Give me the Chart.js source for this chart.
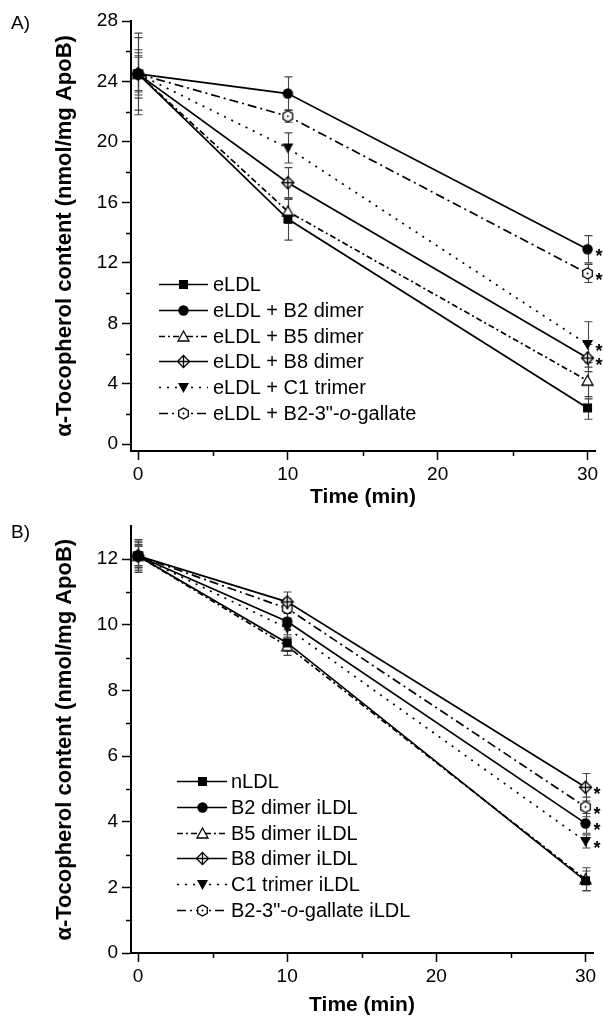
<!DOCTYPE html>
<html>
<head>
<meta charset="utf-8">
<title>alpha-Tocopherol content</title>
<script src="https://cdn.jsdelivr.net/npm/chart.js@4.4.1/dist/chart.umd.min.js"></script>
<style>
    html, body { margin: 0; padding: 0; background: #fff; }
    .panel { position: relative; width: 604px; height: 511px; }
</style>
</head>
<body>
<div class="panel"><canvas id="chartA"></canvas></div>
<div class="panel"><canvas id="chartB"></canvas></div>
<script>
    "use strict";

    var FONT = "'Liberation Sans', Arial, Helvetica, sans-serif";

    // Time points (min)
    var timeMin = [0, 10, 30];
    var xTicks = [0, 10, 20, 30];
    var xMinor = [5, 15, 25];

    // Panel A - eLDL
    var labelsA = ["eLDL", "eLDL + B2 dimer", "eLDL + B5 dimer", "eLDL + B8 dimer", "eLDL + C1 trimer", "eLDL + B2-3\"-o-gallate"];
    var eLDL       = [24.5, 14.9, 2.4];
    var eB2Dimer   = [24.5, 23.2, 12.9];
    var eB5Dimer   = [24.5, 15.4, 4.2];
    var eB8Dimer   = [24.5, 17.3, 5.7];
    var eC1Trimer  = [24.5, 19.6, 6.6];
    var eB2Gallate = [24.5, 21.7, 11.3];
    var eLDLErr       = [1.2, 1.4, 0.75];
    var eB2DimerErr   = [2.7, 1.1, 0.9];
    var eB5DimerErr   = [1.4, 0.8, 1.2];
    var eB8DimerErr   = [1.6, 1.0, 0.9];
    var eC1TrimerErr  = [2.4, 1.0, 1.5];
    var eB2GallateErr = [1.1, 0.4, 0.6];
    var starsA = [false, true, false, true, true, true];
    var yTicksA = [0, 4, 8, 12, 16, 20, 24, 28];
    var yMinorA = [2, 6, 10, 14, 18, 22, 26];

    // Panel B - nLDL / iLDL
    var labelsB = ["nLDL", "B2 dimer iLDL", "B5 dimer iLDL", "B8 dimer iLDL", "C1 trimer iLDL", "B2-3\"-o-gallate iLDL"];
    var nLDL       = [12.1, 9.45, 2.2];
    var iB2Dimer   = [12.1, 10.1, 3.95];
    var iB5Dimer   = [12.1, 9.35, 2.25];
    var iB8Dimer   = [12.1, 10.7, 5.05];
    var iC1Trimer  = [12.1, 9.9, 3.4];
    var iB2Gallate = [12.1, 10.5, 4.45];
    var nLDLErr       = [0.3, 0.25, 0.3];
    var iB2DimerErr   = [0.4, 0.25, 0.3];
    var iB5DimerErr   = [0.45, 0.28, 0.35];
    var iB8DimerErr   = [0.5, 0.3, 0.42];
    var iC1TrimerErr  = [0.35, 0.3, 0.2];
    var iB2GallateErr = [0.3, 0.3, 0.3];
    var starsB = [false, true, false, true, true, true];
    var yTicksB = [0, 2, 4, 6, 8, 10, 12];
    var yMinorB = [1, 3, 5, 7, 9, 11];

    // marker + line style per series (same order in both panels)
    var seriesStyles = [
        { marker: "square", dash: [] },
        { marker: "circle", dash: [] },
        { marker: "triangle", dash: [6, 3, 2, 3] },
        { marker: "diamondCross", dash: [] },
        { marker: "triangleDown", dash: [2, 6] },
        { marker: "hexagon", dash: [9, 4, 2, 4] }
    ];

    function makeMarker(kind) {
        var c = document.createElement("canvas");
        c.width = 15; c.height = 15;
        var g = c.getContext("2d");
        var m = 7.5;
        g.lineWidth = 1.3;
        g.strokeStyle = "#000";
        g.fillStyle = "#000";
        g.beginPath();
        switch (kind) {
            case "square":
                g.rect(m - 4.5, m - 4.5, 9, 9);
                g.fill();
                break;
            case "circle":
                g.arc(m, m, 5.2, 0, Math.PI * 2);
                g.fill();
                break;
            case "triangle":
                g.moveTo(m, m - 5.5); g.lineTo(m + 5.5, m + 4.5); g.lineTo(m - 5.5, m + 4.5); g.closePath();
                g.fillStyle = "#fff"; g.fill(); g.stroke();
                break;
            case "triangleDown":
                g.moveTo(m - 5.5, m - 4.5); g.lineTo(m + 5.5, m - 4.5); g.lineTo(m, m + 5.5); g.closePath();
                g.fill();
                break;
            case "diamondCross":
                g.moveTo(m, m - 6); g.lineTo(m + 6, m); g.lineTo(m, m + 6); g.lineTo(m - 6, m); g.closePath();
                g.fillStyle = "#fff"; g.fill(); g.stroke();
                g.beginPath();
                g.moveTo(m, m - 6); g.lineTo(m, m + 6);
                g.moveTo(m - 6, m); g.lineTo(m + 6, m);
                g.stroke();
                break;
            case "hexagon":
                for (var k = 0; k < 6; k++) {
                    var a = Math.PI / 2 + k * Math.PI / 3;
                    var px = m + 5.5 * Math.cos(a), py = m + 5.5 * Math.sin(a);
                    if (k === 0) g.moveTo(px, py); else g.lineTo(px, py);
                }
                g.closePath();
                g.fillStyle = "#fff"; g.fill(); g.stroke();
                g.beginPath();
                g.fillStyle = "#000";
                g.arc(m, m, 1, 0, Math.PI * 2);
                g.fill();
                break;
        }
        return c;
    }

    var markers = {};
    seriesStyles.forEach(function (s) { markers[s.marker] = makeMarker(s.marker); });

    function drawLabel(ctx, text, x, y) {
        var normal = "20px " + FONT, italic = "italic 20px " + FONT;
        var parts = text.split("-o-");
        ctx.font = normal;
        if (parts.length !== 2) { ctx.fillText(text, x, y); return; }
        var first = parts[0] + "-";
        ctx.fillText(first, x, y); x += ctx.measureText(first).width;
        ctx.font = italic;
        ctx.fillText("o", x, y); x += ctx.measureText("o").width;
        ctx.font = normal;
        ctx.fillText("-" + parts[1], x, y);
    }

    // error bars, asterisks, minor ticks, legend and panel letter
    function makeExtras(cfg) {
        return {
            id: "extras" + cfg.panel,
            beforeDatasetsDraw: function (chart) {
                var ctx = chart.ctx, xs = chart.scales.x, ys = chart.scales.y;
                ctx.save();
                ctx.strokeStyle = "#444";
                ctx.lineWidth = 1.1;
                cfg.series.forEach(function (vals, i) {
                    var err = cfg.errors[i];
                    timeMin.forEach(function (t, j) {
                        var x = Math.round(xs.getPixelForValue(t)) + 0.5;
                        var yHi = ys.getPixelForValue(vals[j] + err[j]);
                        var yLo = ys.getPixelForValue(vals[j] - err[j]);
                        ctx.beginPath();
                        ctx.moveTo(x, yHi); ctx.lineTo(x, yLo);
                        ctx.moveTo(x - 4, yHi); ctx.lineTo(x + 4, yHi);
                        ctx.moveTo(x - 4, yLo); ctx.lineTo(x + 4, yLo);
                        ctx.stroke();
                    });
                });
                ctx.restore();
            },
            afterDatasetsDraw: function (chart) {
                var ctx = chart.ctx, xs = chart.scales.x, ys = chart.scales.y;
                ctx.save();
                ctx.fillStyle = "#000";
                ctx.font = "bold 18px " + FONT;
                ctx.textBaseline = "alphabetic";
                cfg.series.forEach(function (vals, i) {
                    if (!cfg.stars[i]) return;
                    var last = timeMin.length - 1;
                    var x = xs.getPixelForValue(timeMin[last]) + 8;
                    var y = ys.getPixelForValue(vals[last]);
                    ctx.fillText("*", x, y + 13);
                });
                ctx.restore();
            },
            afterDraw: function (chart) {
                var ctx = chart.ctx, xs = chart.scales.x, ys = chart.scales.y, area = chart.chartArea;
                ctx.save();
                ctx.strokeStyle = "#000";
                ctx.lineWidth = 1.5;
                ctx.beginPath();
                cfg.yMinor.forEach(function (v) {
                    var y = Math.round(ys.getPixelForValue(v)) + 0.5;
                    ctx.moveTo(area.left, y); ctx.lineTo(area.left - 5, y);
                });
                xMinor.forEach(function (v) {
                    var x = Math.round(xs.getPixelForValue(v)) + 0.5;
                    ctx.moveTo(x, area.bottom); ctx.lineTo(x, area.bottom + 5);
                });
                ctx.stroke();

                // legend
                var lg = cfg.legend;
                ctx.textBaseline = "middle";
                ctx.fillStyle = "#000";
                cfg.labels.forEach(function (label, i) {
                    var y = Math.round(lg.y0 + i * lg.dy) + 0.5;
                    var st = seriesStyles[i];
                    ctx.beginPath();
                    ctx.setLineDash(st.dash);
                    ctx.lineWidth = 1.6;
                    ctx.moveTo(lg.x0, y); ctx.lineTo(lg.x1, y);
                    ctx.stroke();
                    ctx.setLineDash([]);
                    var img = markers[st.marker];
                    ctx.drawImage(img, Math.round((lg.x0 + lg.x1) / 2 - img.width / 2), Math.round(y - img.height / 2));
                    drawLabel(ctx, label, lg.textX, y + 1);
                });

                // panel letter
                ctx.font = "19px " + FONT;
                ctx.fillText(cfg.panel + ")", 11, cfg.panelY);
                ctx.restore();
            }
        };
    }

    function buildChart(canvasId, cfg) {
        var datasets = cfg.series.map(function (vals, i) {
            var st = seriesStyles[i];
            return {
                label: cfg.labels[i],
                data: timeMin.map(function (t, j) { return { x: t, y: vals[j] }; }),
                borderColor: "#000",
                backgroundColor: "#000",
                borderWidth: 1.7,
                borderDash: st.dash,
                pointStyle: markers[st.marker],
                pointRadius: 6,
                pointHoverRadius: 6,
                tension: 0,
                fill: false
            };
        });

        return new Chart(document.getElementById(canvasId), {
            type: "line",
            data: { datasets: datasets },
            options: {
                responsive: true,
                maintainAspectRatio: false,
                animation: false,
                layout: { padding: cfg.padding },
                plugins: { legend: { display: false }, tooltip: { enabled: false } },
                scales: {
                    x: {
                        type: "linear",
                        min: -0.47,
                        max: 30.5,
                        border: { color: "#000", width: 2 },
                        grid: { drawOnChartArea: false, drawTicks: true, tickLength: 9, tickColor: "#000", tickWidth: 1.5 },
                        ticks: { color: "#000", font: { family: FONT, size: 19 }, padding: 3 },
                        afterBuildTicks: function (s) { s.ticks = xTicks.map(function (v) { return { value: v }; }); },
                        afterFit: function (s) { s.height = cfg.xAxisHeight; },
                        title: {
                            display: true, text: "Time (min)", color: "#000",
                            font: { family: FONT, size: 21, weight: "bold" },
                            padding: { top: 0, bottom: cfg.xTitlePad }
                        }
                    },
                    y: {
                        type: "linear",
                        min: cfg.yMin,
                        max: cfg.yMax,
                        border: { color: "#000", width: 2 },
                        grid: { drawOnChartArea: false, drawTicks: true, tickLength: 9, tickColor: "#000", tickWidth: 1.5 },
                        ticks: { color: "#000", font: { family: FONT, size: 19 }, padding: 4 },
                        afterBuildTicks: function (s) { s.ticks = cfg.yTicks.map(function (v) { return { value: v }; }); },
                        afterFit: function (s) { s.width = 131; },
                        title: {
                            display: true, text: "\u03B1-Tocopherol content (nmol/mg ApoB)", color: "#000",
                            font: { family: FONT, size: 22, weight: "bold" },
                            padding: { top: 52, bottom: 0 }
                        }
                    }
                }
            },
            plugins: [makeExtras(cfg)]
        });
    }

    // Panel A
    buildChart("chartA", {
        panel: "A",
        panelY: 24,
        labels: labelsA,
        series: [eLDL, eB2Dimer, eB5Dimer, eB8Dimer, eC1Trimer, eB2Gallate],
        errors: [eLDLErr, eB2DimerErr, eB5DimerErr, eB8DimerErr, eC1TrimerErr, eB2GallateErr],
        stars: starsA,
        yMin: -0.45,
        yMax: 28,
        yTicks: yTicksA,
        yMinor: yMinorA,
        padding: { top: 21, right: 9, left: 0, bottom: 0 },
        xAxisHeight: 60,
        xTitlePad: 1,
        legend: { x0: 159, x1: 208, textX: 213, y0: 284, dy: 25.8 }
    });

    // Panel B
    buildChart("chartB", {
        panel: "B",
        panelY: 22,
        labels: labelsB,
        series: [nLDL, iB2Dimer, iB5Dimer, iB8Dimer, iC1Trimer, iB2Gallate],
        errors: [nLDLErr, iB2DimerErr, iB5DimerErr, iB8DimerErr, iC1TrimerErr, iB2GallateErr],
        stars: starsB,
        yMin: 0,
        yMax: 13,
        yTicks: yTicksB,
        yMinor: yMinorB,
        padding: { top: 12, right: 11, left: 0, bottom: 0 },
        xAxisHeight: 69,
        xTitlePad: 4,
        legend: { x0: 177, x1: 227, textX: 231, y0: 270, dy: 25.8 }
    });
</script>
</body>
</html>
